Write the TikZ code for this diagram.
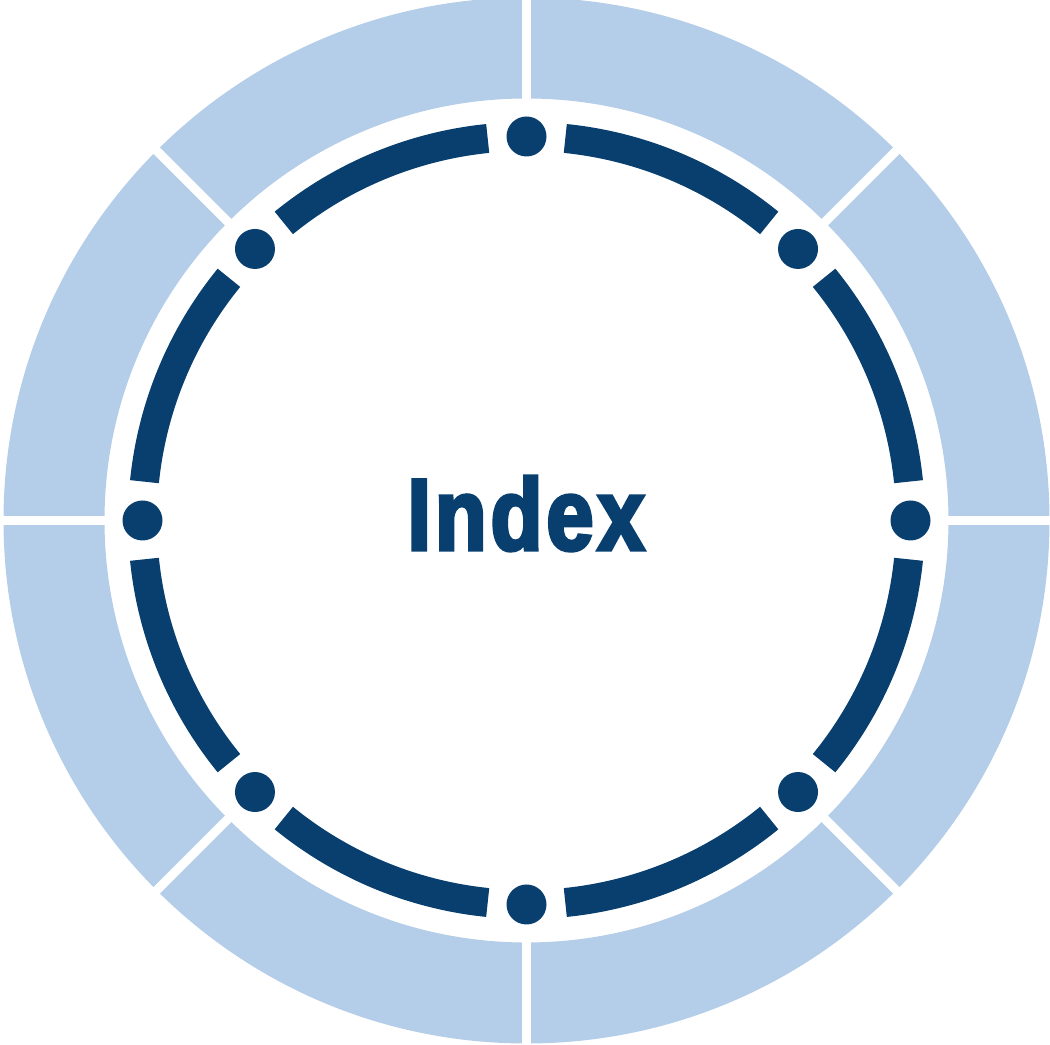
\documentclass[tikz,border=0pt]{standalone}
\usepackage{fontspec}
\setmainfont{Liberation Sans}
\newfontfamily\titlefont[FakeBold=3.5,FakeStretch=0.83,LetterSpace=4]{Liberation Sans Bold}
\usetikzlibrary{positioning}
\definecolor{ringblue}{RGB}{180,205,232}
\definecolor{darkblue}{RGB}{8,63,110}

\begin{document}
\begin{tikzpicture}[
    dot/.style={circle, fill=darkblue, inner sep=0pt, minimum size=4mm},
    track/.style={draw=darkblue, line width=2.9mm},
    divider/.style={draw=white, line width=0.9mm}]
  \useasboundingbox (0,0) rectangle (10.5,10.45);
  \coordinate (c) at (5.265,5.245);

  \fill [ringblue, even odd rule] (c) circle (5.23) (c) circle (4.22);
  \foreach \a in {0,45,...,315}
    \path [divider] (c) ++(\a:4.1) -- ++(\a:1.3);

  \foreach \a [count=\i from 0] in {0,45,...,315} {
    \node (d\i) [dot] at ([shift={(\a:3.84)}]c) {};
    \draw [track] ([shift={(\a+5.8:3.84)}]c) arc [start angle=\a+5.8, end angle=\a+39.2, radius=3.84];
  }

  \node (title) [text=darkblue, font=\titlefont\fontsize{29}{30}\selectfont] at (5.26,5.315) {Index};
\end{tikzpicture}
\end{document}
